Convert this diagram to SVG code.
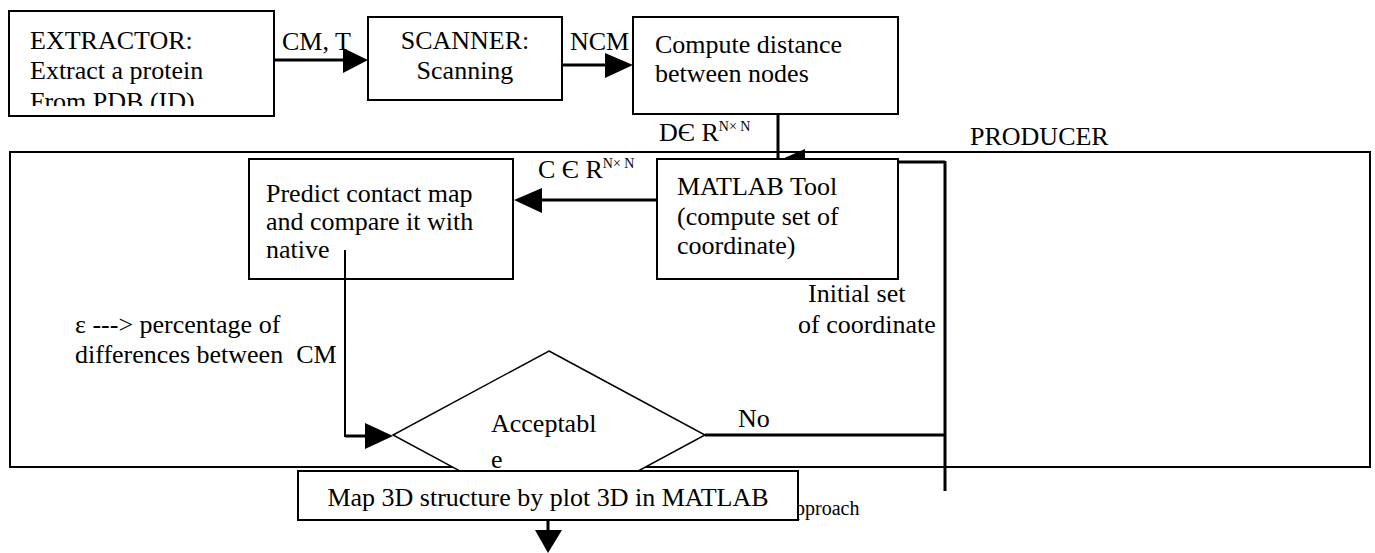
<svg xmlns="http://www.w3.org/2000/svg" width="1375" height="553" viewBox="0 0 1375 553">
<defs>
<style>
.t{font-family:"Liberation Serif","Times New Roman",serif;font-size:26px;fill:#000}
.s{font-size:14px}
.box{fill:#fff;stroke:#000;stroke-width:2}
.ln{fill:none;stroke:#000;stroke-width:3}
.th{fill:none;stroke:#000;stroke-width:2}
.ah{fill:#000;stroke:none}
</style>
<clipPath id="clipExt"><rect x="9" y="11" width="265" height="95"/></clipPath>
</defs>
<rect width="1375" height="553" fill="#fff"/>

<g id="producer">
<rect x="10" y="152" width="1360" height="315" class="th"/>
<text class="t" x="970" y="145">PRODUCER</text>
</g>

<text class="t" x="795" y="515" style="font-size:20px">pproach</text>

<g id="extractor">
<rect x="9" y="11" width="265" height="105" class="box"/>
<g clip-path="url(#clipExt)">
<text class="t" x="30" y="49">EXTRACTOR:</text>
<text class="t" x="30" y="79">Extract a protein</text>
<text class="t" x="30" y="110">From PDB (ID)</text>
</g>
</g>

<g id="scanner">
<rect x="368" y="17" width="194" height="83" class="box"/>
<text class="t" x="465" y="49" text-anchor="middle">SCANNER:</text>
<text class="t" x="465" y="79" text-anchor="middle">Scanning</text>
</g>

<g id="compute">
<rect x="633" y="17" width="265" height="97" class="box"/>
<text class="t" x="655" y="53">Compute distance</text>
<text class="t" x="655" y="82">between nodes</text>
</g>

<g id="predict">
<rect x="249" y="159" width="264" height="120" class="box"/>
<text class="t" x="266" y="202">Predict contact map</text>
<text class="t" x="266" y="230">and compare it with</text>
<text class="t" x="266" y="258">native</text>
</g>

<g id="matlab">
<polygon class="ah" points="782,159 805,149 805,159"/>
<rect x="657" y="159" width="241" height="120" class="box"/>
<text class="t" x="677" y="195">MATLAB Tool</text>
<text class="t" x="677" y="225">(compute set of</text>
<text class="t" x="677" y="254">coordinate)</text>
</g>

<g id="connectors">
<line x1="274" y1="60" x2="346" y2="60" class="ln"/>
<polygon class="ah" points="343,48 368,60 343,73"/>
<text class="t" x="282" y="50">CM, T</text>

<line x1="562" y1="65" x2="608" y2="65" class="ln"/>
<polygon class="ah" points="605,53 633,65 605,78"/>
<text class="t" x="570" y="50">NCM</text>

<line x1="778" y1="114" x2="778" y2="159" class="ln"/>
<text class="t" x="659" y="141">DЄ R<tspan class="s" dy="-10">N× N</tspan></text>

<line x1="657" y1="200" x2="540" y2="200" class="ln"/>
<polygon class="ah" points="542,188 514,200 542,213"/>
<text class="t" x="538" y="178">C Є R<tspan class="s" dy="-10">N× N</tspan></text>

<line x1="898" y1="162" x2="945" y2="162" class="ln"/>
<line x1="945" y1="161" x2="945" y2="491" class="ln"/>
<line x1="705" y1="435" x2="945" y2="435" class="ln"/>
<text class="t" x="738" y="427">No</text>
<text class="t" x="808" y="302">Initial set</text>
<text class="t" x="798" y="333">of coordinate</text>

<polyline points="345,250 345,436 367,436" class="th"/>
<line x1="345" y1="436" x2="367" y2="436" class="ln"/>
<polygon class="ah" points="365,423 393,436 365,449"/>
<text class="t" x="75" y="333">ε ---&gt; percentage of</text>
<text class="t" x="75" y="363" xml:space="preserve">differences between  CM</text>
</g>

<g id="acceptable">
<polygon points="549,351 705,435 549,519 393,435" fill="#fff" stroke="#000" stroke-width="1.5"/>
<text class="t" x="491" y="432">Acceptabl</text>
<text class="t" x="491" y="468">e</text>
</g>

<g id="map3d">
<rect x="298" y="471" width="500" height="49" class="box"/>
<text class="t" x="548" y="506" text-anchor="middle">Map 3D structure by plot 3D in MATLAB</text>
</g>

<g id="connectors-out">
<line x1="548" y1="520" x2="548" y2="532" class="ln"/>
<polygon class="ah" points="535,530 562,530 548,553"/>
</g>
</svg>
